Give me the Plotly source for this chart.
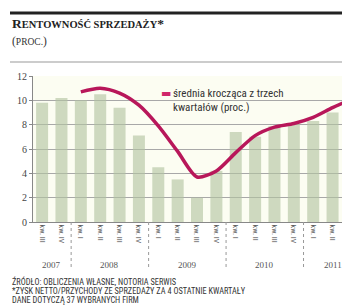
import plotly.graph_objects as go

# ---- data ----
years = ["2007", "2007",
         "2008", "2008", "2008", "2008",
         "2009", "2009", "2009", "2009",
         "2010", "2010", "2010", "2010",
         "2011", "2011", "2011"]
quarters = ["III", "IV", "I", "II", "III", "IV", "I", "II", "III", "IV",
            "I", "II", "III", "IV", "I", "II", "III"]
tick_labels = ["kw. " + q for q in quarters]
profitability = [9.8, 10.2, 10.0, 10.5, 9.4, 7.1, 4.5, 3.5, 2.0, 4.2,
                 7.4, 7.0, 7.9, 8.1, 8.3, 9.0, 9.7]
moving_avg = [None, None, 10.7, 11.0, 10.6, 9.6, 7.9, 5.8, 3.7, 4.2,
              5.7, 7.1, 7.8, 8.1, 8.6, 9.4, 10.1]
y_ticks = [0, 2, 4, 6, 8, 10, 12]

title_main = "RENTOWNOŚĆ SPRZEDAŻY*"
title_unit = "(PROC.)"
legend_text = ["średnia krocząca z trzech", "kwartałów (proc.)"]
footnotes = ["ŹRÓDŁO: OBLICZENIA WŁASNE, NOTORIA SERWIS",
             "*ZYSK NETTO/PRZYCHODY ZE SPRZEDAŻY ZA 4 OSTATNIE KWARTAŁY",
             "DANE DOTYCZĄ 37 WYBRANYCH FIRM"]

# ---- geometry (page body has an 8px margin, so the figure is offset) ----
OFF = 8
W, H = 350 - OFF, 307 - OFF
PLOT_L, PLOT_R, PLOT_T, PLOT_B = 33, 350, 76, 222   # in window pixels
ML, MR, MT, MB = PLOT_L - OFF, 350 - PLOT_R, PLOT_T - OFF, 307 - PLOT_B
PW, PH = PLOT_R - PLOT_L, PLOT_B - PLOT_T


def px(x):
    return (x - PLOT_L) / PW


def py(y):
    return (PLOT_B - y) / PH


idx = list(range(len(profitability)))
LINE_COLOR = "#b8175a"
NARROW = "Liberation Sans Narrow, Arial Narrow, Roboto Condensed, Liberation Sans, sans-serif"
SERIF = "Liberation Serif, DejaVu Serif, serif"

fig = go.Figure()
fig.add_trace(go.Bar(
    x=idx, y=profitability,
    marker=dict(color="rgba(178,196,160,0.62)", line=dict(width=0)),
    showlegend=False, hoverinfo="skip"))
fig.add_trace(go.Scatter(
    x=idx, y=moving_avg, mode="lines",
    line=dict(color=LINE_COLOR, width=3.5, shape="spline", smoothing=0.75),
    connectgaps=False, showlegend=False))

annotations = []
# title
annotations.append(dict(
    xref="paper", yref="paper", x=px(10), y=py(23), xanchor="left", yanchor="middle",
    text="<b>R<span style='font-size:10.5px'>ENTOWNOŚĆ SPRZEDAŻY</span>*</b>",
    showarrow=False, font=dict(family=SERIF, size=13.5, color="#222")))
annotations.append(dict(
    xref="paper", yref="paper", x=px(10), y=py(42), xanchor="left", yanchor="middle",
    text="(<span style='font-size:9.5px'>PROC.</span>)",
    showarrow=False, font=dict(family=SERIF, size=11.5, color="#333")))
# legend
annotations.append(dict(
    xref="paper", yref="paper", x=px(159), y=py(93), xanchor="left", yanchor="middle",
    text="▬", showarrow=False, font=dict(family="DejaVu Sans", size=11, color="#d0266a")))
annotations.append(dict(
    xref="paper", yref="paper", x=px(171), y=py(100), xanchor="left", yanchor="middle",
    align="left", text="<br>".join(legend_text), showarrow=False,
    font=dict(family=NARROW, size=11, color="#333")))
# years
year_order = []
for y in years:
    if y not in year_order:
        year_order.append(y)
for yr in year_order:
    pos = [i for i, v in enumerate(years) if v == yr]
    annotations.append(dict(
        xref="x", yref="paper", x=sum(pos) / len(pos), y=py(265),
        xanchor="center", yanchor="middle", text=yr, showarrow=False,
        font=dict(family=SERIF, size=9, color="#555")))
# footnotes
for k, t in enumerate(footnotes):
    annotations.append(dict(
        xref="paper", yref="paper", x=px(10), y=py(281 + k * 9.5), xanchor="left",
        yanchor="middle", text=t, showarrow=False,
        font=dict(family=NARROW, size=8.3, color="#333")))

shapes = []
# top rule
shapes.append(dict(type="line", xref="paper", yref="paper", x0=px(10), x1=px(352),
                   y0=py(13), y1=py(13), line=dict(color="#222", width=3)))
# header separator
shapes.append(dict(type="line", xref="paper", yref="paper", x0=px(10), x1=px(352),
                   y0=py(62), y1=py(62), line=dict(color="#999", width=1)))
# year dividers
for i in range(1, len(years)):
    if years[i] != years[i - 1]:
        shapes.append(dict(type="line", xref="x", yref="paper", x0=i - 0.5, x1=i - 0.5,
                           y0=py(222), y1=py(270), line=dict(color="#999", width=1, dash="dot")))

fig.update_layout(
    width=W, height=H,
    margin=dict(l=ML, r=MR, t=MT, b=MB),
    paper_bgcolor="white", plot_bgcolor="#fcfdf2",
    bargap=0.38,
    annotations=annotations, shapes=shapes,
    showlegend=False,
    xaxis=dict(range=[-0.47, 15.9], tickvals=idx, ticktext=tick_labels, tickangle=90,
               tickfont=dict(family=NARROW, size=8, color="#555"),
               showgrid=False, showline=True, linecolor="#888", linewidth=1,
               ticks="", zeroline=False, fixedrange=True),
    yaxis=dict(range=[0, 12], tickvals=y_ticks, tickfont=dict(family=SERIF, size=10, color="#444"),
               showgrid=True, gridcolor="#a8a8a8", gridwidth=1,
               showline=True, linecolor="#888", linewidth=1,
               ticks="outside", ticklen=3, tickcolor="#888", zeroline=False, fixedrange=True),
)

fig.write_html("out.html")
